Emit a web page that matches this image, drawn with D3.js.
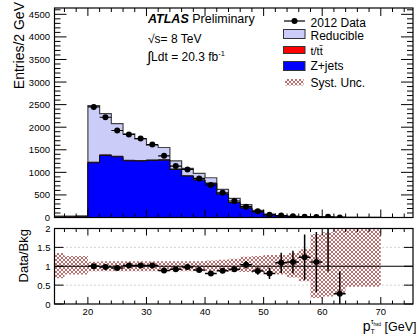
<!DOCTYPE html>
<html>
<head>
<meta charset="utf-8">
<script src="https://cdn.jsdelivr.net/npm/d3@7"></script>
<style>
  body { margin: 0; background: #fff; }
  svg { display: block; font-family: "Liberation Sans", Arial, Helvetica, sans-serif; }
</style>
</head>
<body>
<svg id="chart" width="419" height="336"></svg>
<script>
/* ---------------------- Data ---------------------- */
// bin edges in GeV (2 GeV bins)
var binEdges = [14,16,18,20,22,24,26,28,30,32,34,36,38,40,42,44,46,48,50,52,54,56,58,60,62,64,66,68,70];

// stacked backgrounds, one value per bin
var zjets     = [10,12,15,1211,1374,1344,1255,1249,1264,1270,1065,917,829,756,519,327,210,122,60,30,18,11,7,4,4,2,1,1];
var ttbar     = [2,2,2,15,15,14,13,12,12,11,10,9,8,7,6,5,4,3,2,2,1,1,1,0,0,0,0,0];
var reducible = [18,16,18,1254,911,722,582,479,324,269,180,161,140,117,98,92,69,34,15,8,6,3,4,2,1,1,1,1];

// 2012 data
var dataX   = [21,23,25,27,29,31,33,35,37,39,41,43,45,47,49,51,53,55,57,59,61,63];
var dataY   = [2450,2220,1927,1838,1750,1617,1366,1138,1065,866,718,548,365,239,137,62,44,28,19,13,15,2];
var dataErr = [50,47,44,43,42,40,37,34,33,29,27,23,19,15,12,8,7,5,4,4,4,1];

// data / background ratio
var ratioY   = [1.0,0.98,0.955,1.02,1.02,1.02,0.89,0.92,0.98,0.90,0.81,0.88,0.92,1.04,0.875,0.81,1.09,1.11,1.24,1.11,2.5,0.27];
var ratioErr = [0.02,0.02,0.02,0.02,0.025,0.025,0.03,0.03,0.03,0.035,0.04,0.04,0.05,0.1,0.1,0.15,0.27,0.3,0.6,0.8,1.64,0.6];

// systematic band on the ratio, per bin
var bandLo = [0.68,0.78,0.78,0.87,0.87,0.87,0.87,0.87,0.87,0.87,0.87,0.87,0.87,0.87,0.86,0.86,0.85,0.83,0.80,0.78,0.70,0.60,0.16,0.20,0.29,0.46,0.46,0.46];
var bandHi = [1.35,1.27,1.27,1.12,1.13,1.13,1.13,1.13,1.13,1.13,1.13,1.13,1.13,1.15,1.17,1.20,1.25,1.27,1.30,1.30,1.35,1.45,1.85,1.90,1.98,1.98,1.98,1.98];

var xTicks = [20,30,40,50,60,70];
var yTicksTop = [0,500,1000,1500,2000,2500,3000,3500,4000,4500];
var yTicksRatio = [0,0.5,1,1.5,2];

var colors = {zjets: "#0000ff", ttbar: "#ff0000", reducible: "#ccccf8", hatch: "#b87070"};

/* ---------------------- Layout ---------------------- */
var svg = d3.select("#chart");
var L = 54.5, R = 413;
var topPanel = {y0: 8, y1: 217.5};
var botPanel = {y0: 228.5, y1: 304};

var xScale = d3.scaleLinear().domain([14.3, 75.5]).range([L, R]);
var yTop = d3.scaleLinear().domain([0, 4640]).range([topPanel.y1, topPanel.y0]);
var yRat = d3.scaleLinear().domain([0, 2]).range([botPanel.y1, botPanel.y0]);

var defs = svg.append("defs");
var pat = defs.append("pattern")
    .attr("id", "hatch")
    .attr("width", 4).attr("height", 4)
    .attr("patternUnits", "userSpaceOnUse");
pat.append("path")
    .attr("d", "M0,0L4,4M4,0L0,4")
    .attr("stroke", colors.hatch)
    .attr("stroke-width", 1);

defs.append("clipPath").attr("id", "clipTop")
    .append("rect").attr("x", L).attr("y", topPanel.y0).attr("width", R - L).attr("height", topPanel.y1 - topPanel.y0);
defs.append("clipPath").attr("id", "clipBot")
    .append("rect").attr("x", L).attr("y", botPanel.y0).attr("width", R - L).attr("height", botPanel.y1 - botPanel.y0);

// step outline of a histogram
function stepPath(vals, y) {
    var p = d3.path();
    p.moveTo(xScale(binEdges[0]), y(0));
    vals.forEach(function(v, i) {
        p.lineTo(xScale(binEdges[i]), y(v));
        p.lineTo(xScale(binEdges[i + 1]), y(v));
    });
    p.lineTo(xScale(binEdges[binEdges.length - 1]), y(0));
    p.closePath();
    return p.toString();
}

/* ---------------------- Top panel ---------------------- */
var gTop = svg.append("g").attr("clip-path", "url(#clipTop)");

var cumRed = zjets.map(function(d, i) { return d + ttbar[i]; });
var cumAll = cumRed.map(function(d, i) { return d + reducible[i]; });

gTop.append("path").attr("d", stepPath(cumAll, yTop))
    .attr("fill", colors.reducible).attr("stroke", "#444").attr("stroke-width", 1.2);
gTop.append("path").attr("d", stepPath(cumRed, yTop))
    .attr("fill", colors.ttbar).attr("stroke", "#111").attr("stroke-width", 0.8);
gTop.append("path").attr("d", stepPath(zjets, yTop))
    .attr("fill", colors.zjets).attr("stroke", "#111").attr("stroke-width", 1);

// data points
var gData = gTop.append("g");
dataX.forEach(function(x, i) {
    var cx = xScale(x), cy = yTop(dataY[i]);
    gData.append("line").attr("x1", xScale(x - 1)).attr("x2", xScale(x + 1)).attr("y1", cy).attr("y2", cy)
        .attr("stroke", "#000").attr("stroke-width", 1.2);
    gData.append("line").attr("x1", cx).attr("x2", cx).attr("y1", yTop(dataY[i] + dataErr[i])).attr("y2", yTop(Math.max(0, dataY[i] - dataErr[i])))
        .attr("stroke", "#000").attr("stroke-width", 1.2);
    gData.append("circle").attr("cx", cx).attr("cy", cy).attr("r", 3).attr("fill", "#000");
});

/* ---------------------- Bottom panel ---------------------- */
var gBot = svg.append("g").attr("clip-path", "url(#clipBot)");

// dotted grid at 0.5 and 1.5
[0.5, 1.5].forEach(function(v) {
    gBot.append("line").attr("x1", L).attr("x2", R).attr("y1", yRat(v)).attr("y2", yRat(v))
        .attr("stroke", "#aaa").attr("stroke-width", 1).attr("stroke-dasharray", "1,3");
});

// syst band
var band = d3.area()
    .curve(d3.curveStepAfter)
    .x(function(d) { return xScale(d.x); })
    .y0(function(d) { return yRat(d.lo); })
    .y1(function(d) { return yRat(d.hi); });
var bandData = binEdges.map(function(e, i) {
    var j = Math.min(i, bandLo.length - 1);
    return {x: e, lo: bandLo[j], hi: bandHi[j]};
});
gBot.append("path").attr("d", band(bandData)).attr("fill", "url(#hatch)");

gBot.append("line").attr("x1", L).attr("x2", R).attr("y1", yRat(1)).attr("y2", yRat(1))
    .attr("stroke", "#000").attr("stroke-width", 1);

var gRat = gBot.append("g");
dataX.forEach(function(x, i) {
    var cx = xScale(x), cy = yRat(ratioY[i]);
    gRat.append("line").attr("x1", xScale(x - 1)).attr("x2", xScale(x + 1)).attr("y1", cy).attr("y2", cy)
        .attr("stroke", "#000").attr("stroke-width", 1.5);
    gRat.append("line").attr("x1", cx).attr("x2", cx).attr("y1", yRat(ratioY[i] + ratioErr[i])).attr("y2", yRat(Math.max(0, ratioY[i] - ratioErr[i])))
        .attr("stroke", "#000").attr("stroke-width", 1.5);
    gRat.append("circle").attr("cx", cx).attr("cy", cy).attr("r", 3).attr("fill", "#000");
});

/* ---------------------- Axes & frames ---------------------- */
function frame(p) {
    svg.append("rect").attr("x", L).attr("y", p.y0).attr("width", R - L).attr("height", p.y1 - p.y0)
        .attr("fill", "none").attr("stroke", "#000").attr("stroke-width", 1.2);
}
frame(topPanel);
frame(botPanel);

var minorX = d3.range(16, 76, 2);

function xTickMarks(p, major, minor) {
    var g = svg.append("g").attr("stroke", "#000").attr("stroke-width", 1);
    minorX.forEach(function(v) {
        var len = (v % 10 === 0) ? major : minor;
        var x = xScale(v);
        g.append("line").attr("x1", x).attr("x2", x).attr("y1", p.y1).attr("y2", p.y1 - len);
        g.append("line").attr("x1", x).attr("x2", x).attr("y1", p.y0).attr("y2", p.y0 + len);
    });
}
xTickMarks(topPanel, 8, 4);
xTickMarks(botPanel, 7, 3.5);

// top panel y axis
var gY = svg.append("g").attr("stroke", "#000").attr("stroke-width", 1);
d3.range(0, 4700, 100).forEach(function(v) {
    var y = yTop(v);
    if (y < topPanel.y0) return;
    var len = (v % 500 === 0) ? 12 : 6;
    gY.append("line").attr("x1", L).attr("x2", L + len).attr("y1", y).attr("y2", y);
    gY.append("line").attr("x1", R).attr("x2", R - len).attr("y1", y).attr("y2", y);
});
svg.append("g").selectAll("text").data(yTicksTop).enter().append("text")
    .attr("x", 50).attr("y", function(d) { return yTop(d) + 3.5; })
    .attr("text-anchor", "end").attr("font-size", "9.5px")
    .text(function(d) { return d; });

// ratio y axis
var gYr = svg.append("g").attr("stroke", "#000").attr("stroke-width", 1);
yTicksRatio.forEach(function(v) {
    var y = yRat(v);
    gYr.append("line").attr("x1", L).attr("x2", L + 9).attr("y1", y).attr("y2", y);
    gYr.append("line").attr("x1", R).attr("x2", R - 9).attr("y1", y).attr("y2", y);
});
svg.append("g").selectAll("text").data(yTicksRatio).enter().append("text")
    .attr("x", 50.5).attr("y", function(d) { return yRat(d) + 3.5; })
    .attr("text-anchor", "end").attr("font-size", "9.5px")
    .text(function(d) { return d; });

// x tick labels
svg.append("g").selectAll("text").data(xTicks).enter().append("text")
    .attr("x", function(d) { return xScale(d); }).attr("y", 314.5)
    .attr("text-anchor", "middle").attr("font-size", "9.5px")
    .text(function(d) { return d; });

// axis titles
svg.append("text")
    .attr("transform", "translate(23.5,2) rotate(-90)")
    .attr("text-anchor", "end").attr("font-size", "14px")
    .text("Entries/2 GeV");
svg.append("text")
    .attr("transform", "translate(28,229) rotate(-90)")
    .attr("text-anchor", "end").attr("font-size", "13px")
    .text("Data/Bkg");

var xt = svg.append("text").attr("x", 416.5).attr("y", 331).attr("text-anchor", "end").attr("font-size", "12.5px");
xt.append("tspan").attr("font-size", "14px").text("p");
xt.append("tspan").attr("font-size", "7px").attr("dy", 3).text("T");
xt.append("tspan").attr("font-size", "7px").attr("dx", -4).attr("dy", -10).text("τ");
xt.append("tspan").attr("font-size", "4.5px").attr("dy", 2).text("had");
xt.append("tspan").attr("dy", 5).text(" [GeV]");

/* ---------------------- Labels ---------------------- */
var at = svg.append("text").attr("x", 148).attr("y", 22.5).attr("font-size", "12.5px");
at.append("tspan").attr("font-weight", "bold").attr("font-style", "italic").text("ATLAS");
at.append("tspan").text(" Preliminary");

var rs = svg.append("text").attr("x", 148).attr("y", 42.5).attr("font-size", "12px");
rs.append("tspan").text("√s= 8 TeV");

var lu = svg.append("text").attr("x", 147).attr("y", 61).attr("font-size", "12px");
lu.append("tspan").attr("font-size", "15px").attr("dy", 1).text("∫");
lu.append("tspan").attr("dy", -1).text("Ldt = 20.3 fb");
lu.append("tspan").attr("font-size", "7.5px").attr("dy", -5).text("-1");

/* ---------------------- Legend ---------------------- */
var lg = svg.append("g");
var tx = 310.5;
lg.append("line").attr("x1", 284).attr("x2", 305).attr("y1", 21).attr("y2", 21).attr("stroke", "#000").attr("stroke-width", 1.2);
lg.append("circle").attr("cx", 294.5).attr("cy", 21).attr("r", 3).attr("fill", "#000");
lg.append("text").attr("x", tx).attr("y", 26.5).attr("font-size", "12px").text("2012 Data");

lg.append("rect").attr("x", 283.5).attr("y", 29.5).attr("width", 21.5).attr("height", 9)
    .attr("fill", colors.reducible).attr("stroke", "#333").attr("stroke-width", 1);
lg.append("text").attr("x", tx).attr("y", 39.5).attr("font-size", "12px").text("Reducible");

lg.append("rect").attr("x", 283.5).attr("y", 46.5).attr("width", 21.5).attr("height", 7)
    .attr("fill", colors.ttbar).attr("stroke", "#333").attr("stroke-width", 1);
lg.append("text").attr("x", tx).attr("y", 54.5).attr("font-size", "11px").text("t/tt\u0304");

lg.append("rect").attr("x", 283.5).attr("y", 61.5).attr("width", 21.5).attr("height", 9)
    .attr("fill", colors.zjets).attr("stroke", "#333").attr("stroke-width", 1);
lg.append("text").attr("x", tx).attr("y", 70).attr("font-size", "12px").text("Z+jets");

lg.append("rect").attr("x", 285).attr("y", 79).attr("width", 18.5).attr("height", 6.5)
    .attr("fill", "url(#hatch)");
lg.append("text").attr("x", tx).attr("y", 86.5).attr("font-size", "12px").text("Syst. Unc.");
</script>
</body>
</html>
